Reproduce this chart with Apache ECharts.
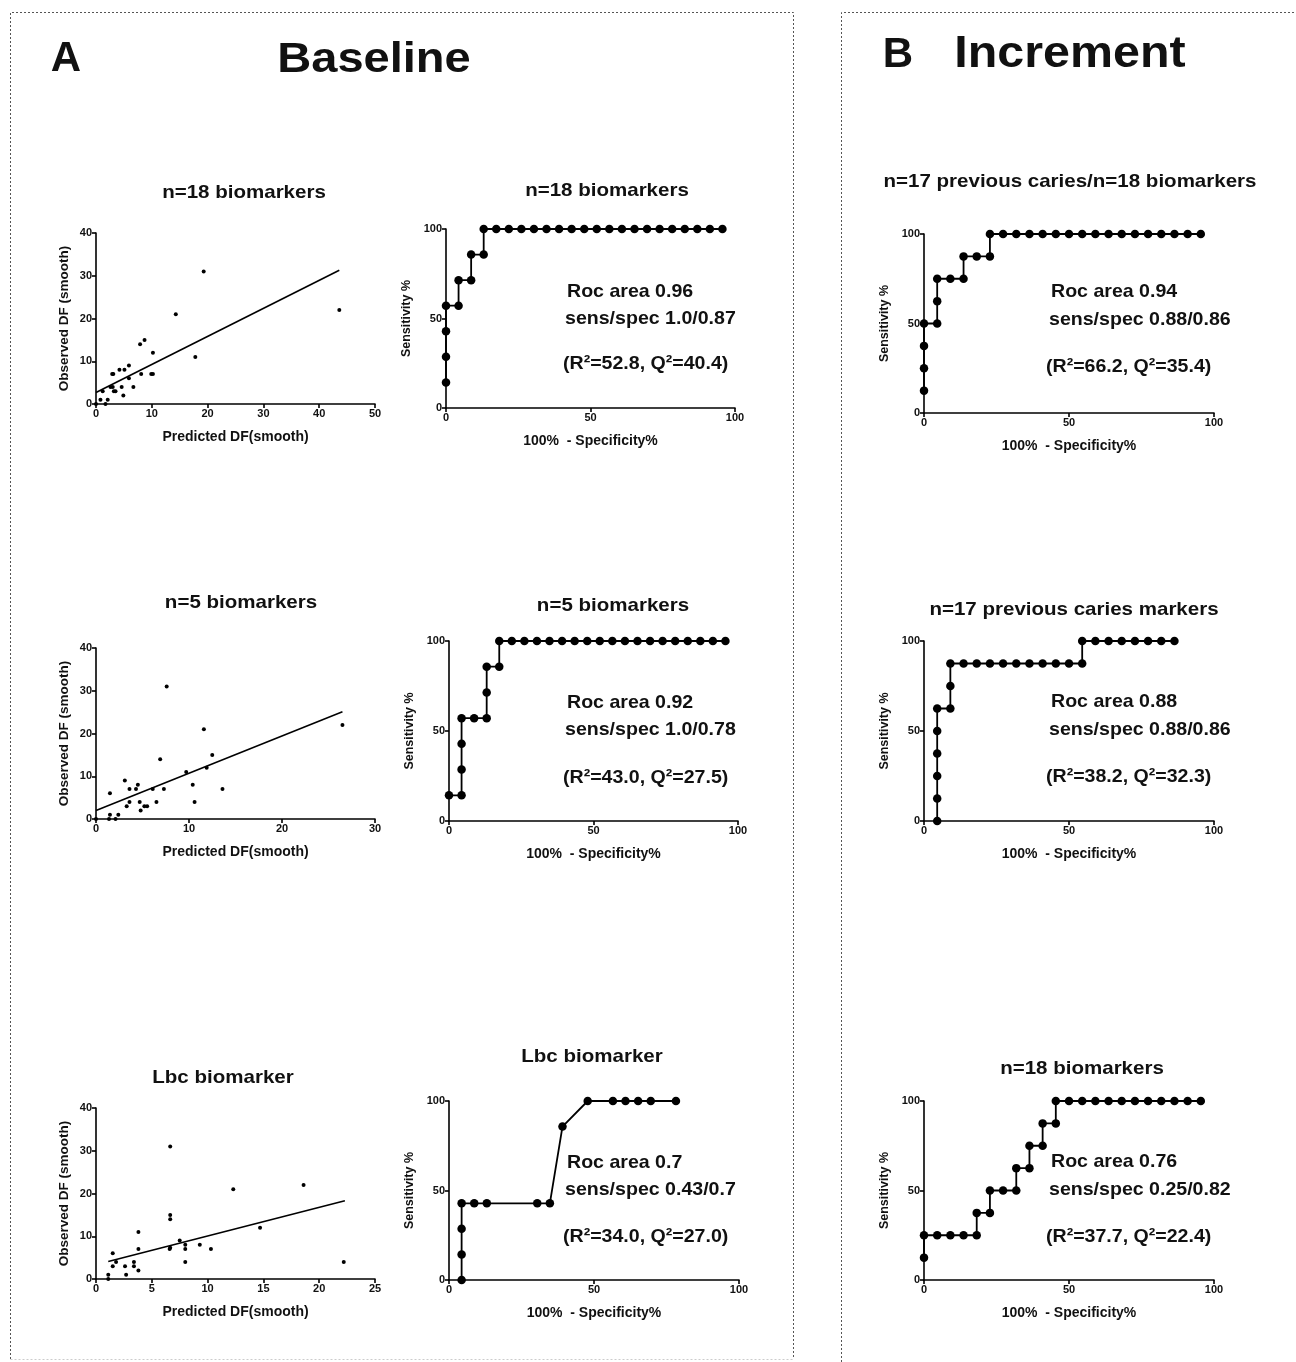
<!DOCTYPE html>
<html>
<head>
<meta charset="utf-8">
<script src="https://cdn.jsdelivr.net/npm/echarts@6/dist/echarts.min.js"></script>
<style>
html,body{margin:0;padding:0;background:#fff;}
#chart{width:1296px;height:1362px;}
</style>
</head>
<body>
<div id="chart"></div>
<script>
// ---------------- DATA ----------------
const scatterA1 = [[0,0],[0.8,1],[1.2,3],[1.7,0],[2.1,1],[2.6,4],[2.9,7],[3.1,7],[3.0,4],[3.2,3],[3.5,3],[4.2,8],[4.6,4],[4.9,2],[5.1,8],[5.9,9],[5.9,6],[6.7,4],[7.9,14],[8.7,15],[8.1,7],[9.9,7],[10.2,7],[10.2,12],[14.3,21],[17.8,11],[19.3,31],[43.6,22]];
const fitA1 = [[0,2.7],[43.6,31.3]];
const scatterA2 = [[0,0],[1.4,0],[1.5,1],[1.5,6],[2.1,0],[2.4,1],[3.1,9],[3.3,3],[3.6,7],[3.6,4],[4.3,7],[4.5,8],[4.7,4],[4.8,2],[5.2,3],[5.5,3],[6.1,7],[6.5,4],[6.9,14],[7.3,7],[7.6,31],[9.7,11],[10.4,8],[10.6,4],[11.6,21],[11.9,12],[12.5,15],[13.6,7],[26.5,22]];
const fitA2 = [[0,2.0],[26.5,25.1]];
const scatterA3 = [[1.1,0],[1.1,1],[1.5,6],[1.5,3],[1.8,4],[2.6,3],[2.7,1],[3.4,4],[3.4,3],[3.8,11],[3.8,7],[3.8,2],[6.65,31],[6.65,15],[6.65,14],[6.65,7.3],[6.6,7],[7.5,9],[8.0,8],[8.0,7],[8.0,4],[9.3,8],[10.3,7],[12.3,21],[14.7,12],[18.6,22],[22.2,4]];
const fitA3 = [[1.1,4.1],[22.3,18.3]];

const rocA1 = [[0,14.29],[0,28.57],[0,42.86],[0,57.14],[4.35,57.14],[4.35,71.43],[8.7,71.43],[8.7,85.71],[13.04,85.71],[13.04,100],[17.39,100],[21.74,100],[26.09,100],[30.43,100],[34.78,100],[39.13,100],[43.48,100],[47.83,100],[52.17,100],[56.52,100],[60.87,100],[65.22,100],[69.57,100],[73.91,100],[78.26,100],[82.61,100],[86.96,100],[91.3,100],[95.65,100]];
const rocA2 = [[0,14.29],[4.35,14.29],[4.35,28.57],[4.35,42.86],[4.35,57.14],[8.7,57.14],[13.04,57.14],[13.04,71.43],[13.04,85.71],[17.39,85.71],[17.39,100],[21.74,100],[26.09,100],[30.43,100],[34.78,100],[39.13,100],[43.48,100],[47.83,100],[52.17,100],[56.52,100],[60.87,100],[65.22,100],[69.57,100],[73.91,100],[78.26,100],[82.61,100],[86.96,100],[91.3,100],[95.65,100]];
const rocA3 = [[4.35,0],[4.35,14.29],[4.35,28.57],[4.35,42.86],[8.7,42.86],[13.04,42.86],[30.43,42.86],[34.78,42.86],[39.13,85.71],[47.83,100],[56.52,100],[60.87,100],[65.22,100],[69.57,100],[78.26,100]];
const rocB1 = [[0,12.5],[0,25],[0,37.5],[0,50],[4.55,50],[4.55,62.5],[4.55,75],[9.09,75],[13.64,75],[13.64,87.5],[18.18,87.5],[22.73,87.5],[22.73,100],[27.27,100],[31.82,100],[36.36,100],[40.91,100],[45.45,100],[50,100],[54.55,100],[59.09,100],[63.64,100],[68.18,100],[72.73,100],[77.27,100],[81.82,100],[86.36,100],[90.91,100],[95.45,100]];
const rocB2 = [[4.55,0],[4.55,12.5],[4.55,25],[4.55,37.5],[4.55,50],[4.55,62.5],[9.09,62.5],[9.09,75],[9.09,87.5],[13.64,87.5],[18.18,87.5],[22.73,87.5],[27.27,87.5],[31.82,87.5],[36.36,87.5],[40.91,87.5],[45.45,87.5],[50,87.5],[54.55,87.5],[54.55,100],[59.09,100],[63.64,100],[68.18,100],[72.73,100],[77.27,100],[81.82,100],[86.36,100]];
const rocB3 = [[0,12.5],[0,25],[4.55,25],[9.09,25],[13.64,25],[18.18,25],[18.18,37.5],[22.73,37.5],[22.73,50],[27.27,50],[31.82,50],[31.82,62.5],[36.36,62.5],[36.36,75],[40.91,75],[40.91,87.5],[45.45,87.5],[45.45,100],[50,100],[54.55,100],[59.09,100],[63.64,100],[68.18,100],[72.73,100],[77.27,100],[81.82,100],[86.36,100],[90.91,100],[95.45,100]];

const scatterXMax = [50, 30, 25];
const scatterXInterval = [10, 10, 5];
const scatterYTicks = [0, 40, 10];
const rocTicks = [0, 100, 50];

const panelTitles = ["A", "Baseline", "B", "Increment"];
const plotTitles = [
  "n=18 biomarkers", "n=18 biomarkers", "n=17 previous caries/n=18 biomarkers",
  "n=5 biomarkers", "n=5 biomarkers", "n=17 previous caries markers",
  "Lbc biomarker", "Lbc biomarker", "n=18 biomarkers"
];
const rocTexts = [
  ["Roc area 0.96", "sens/spec 1.0/0.87", "(R\u00b2=52.8, Q\u00b2=40.4)"],
  ["Roc area 0.92", "sens/spec 1.0/0.78", "(R\u00b2=43.0, Q\u00b2=27.5)"],
  ["Roc area 0.7", "sens/spec 0.43/0.7", "(R\u00b2=34.0, Q\u00b2=27.0)"],
  ["Roc area 0.94", "sens/spec 0.88/0.86", "(R\u00b2=66.2, Q\u00b2=35.4)"],
  ["Roc area 0.88", "sens/spec 0.88/0.86", "(R\u00b2=38.2, Q\u00b2=32.3)"],
  ["Roc area 0.76", "sens/spec 0.25/0.82", "(R\u00b2=37.7, Q\u00b2=22.4)"]
];
const axisNames = {
  scatterX: "Predicted DF(smooth)", scatterY: "Observed DF (smooth)",
  rocX: "100%  - Specificity%", rocY: "Sensitivity %"
};

// ---------------- LAYOUT ----------------
const FONT = '"Liberation Sans", Arial, Helvetica, sans-serif';
const scatterGrids = [
  {left: 96, top: 233, width: 279, height: 171},
  {left: 96, top: 648, width: 279, height: 171},
  {left: 96, top: 1108, width: 279, height: 171}
];
const rocGrids = [
  {left: 446, top: 229, width: 289, height: 179},
  {left: 449, top: 641, width: 289, height: 180},
  {left: 449, top: 1101, width: 290, height: 179},
  {left: 924, top: 234, width: 290, height: 179},
  {left: 924, top: 641, width: 290, height: 180},
  {left: 924, top: 1101, width: 290, height: 179}
];
const titlePos = [[244,193],[607,191],[1070,182],[241,603],[613,606],[1074,610],[223,1078],[592,1057],[1082,1069]];
const rocTextPos = [
  [[567,292],[565,319],[563,364]],
  [[567,703],[565,730],[563,778]],
  [[567,1163],[565,1190],[563,1237]],
  [[1051,292],[1049,320],[1046,367]],
  [[1051,702],[1049,730],[1046,777]],
  [[1051,1162],[1049,1190],[1046,1237]]
];

const grids = [], xAxes = [], yAxes = [], series = [];
const labelStyle = {fontFamily: FONT, fontWeight: 'bold', fontSize: 11, color: '#111', margin: 4};
const lineStyle = {show: true, onZero: false, lineStyle: {color: '#000', width: 1.6}};
const tickStyle = {show: true, inside: false, length: 4, lineStyle: {color: '#000', width: 1.6}};

function addAxes(grid, xmin, xmax, xint, ymin, ymax, yint, xname, yname, xgap, ygap, xsize, ysize) {
  const gi = grids.length;
  grids.push(Object.assign({containLabel: false}, grid));
  xAxes.push({
    type: 'value', gridIndex: gi, min: xmin, max: xmax, interval: xint,
    axisLine: lineStyle, axisTick: tickStyle, axisLabel: labelStyle, splitLine: {show: false},
    name: xname, nameLocation: 'middle', nameGap: xgap,
    nameTextStyle: {fontFamily: FONT, fontWeight: 'bold', fontSize: xsize, color: '#111'}
  });
  yAxes.push({
    type: 'value', gridIndex: gi, min: ymin, max: ymax, interval: yint,
    axisLine: lineStyle, axisTick: tickStyle, axisLabel: labelStyle, splitLine: {show: false},
    name: yname, nameLocation: 'middle', nameGap: ygap, nameRotate: 90,
    nameTextStyle: {fontFamily: FONT, fontWeight: 'bold', fontSize: ysize, color: '#111'}
  });
  return gi;
}

const scatterData = [scatterA1, scatterA2, scatterA3];
const fitData = [fitA1, fitA2, fitA3];
scatterGrids.forEach((g, i) => {
  const gi = addAxes(g, 0, scatterXMax[i], scatterXInterval[i], scatterYTicks[0], scatterYTicks[1], scatterYTicks[2],
    axisNames.scatterX, axisNames.scatterY, 26, 25, 14, 13.5);
  series.push({
    type: 'scatter', xAxisIndex: gi, yAxisIndex: gi, data: scatterData[i],
    symbol: 'circle', symbolSize: 4, itemStyle: {color: '#000', opacity: 1}, silent: true
  });
  series.push({
    type: 'line', xAxisIndex: gi, yAxisIndex: gi, data: fitData[i],
    showSymbol: false, symbol: 'none', lineStyle: {color: '#000', width: 1.6}, silent: true
  });
});

const rocData = [rocA1, rocA2, rocA3, rocB1, rocB2, rocB3];
rocGrids.forEach((g, i) => {
  const gi = addAxes(g, rocTicks[0], rocTicks[1], rocTicks[2], rocTicks[0], rocTicks[1], rocTicks[2],
    axisNames.rocX, axisNames.rocY, 26, 33, 14, 12.5);
  series.push({
    type: 'line', xAxisIndex: gi, yAxisIndex: gi, data: rocData[i],
    symbol: 'circle', symbolSize: 8.5, showAllSymbol: true,
    itemStyle: {color: '#000', borderWidth: 0}, lineStyle: {color: '#000', width: 1.8},
    silent: true, clip: false
  });
});

// ---------------- GRAPHICS (frames & text) ----------------
const graphics = [];
const frameDash = {stroke: '#555', lineWidth: 1, lineDash: [2, 2], fill: 'none'};
const faintDash = {stroke: '#ccc', lineWidth: 1, lineDash: [2, 2], fill: 'none'};
graphics.push({type: 'polyline', shape: {points: [[10.5,1359],[10.5,12.5],[793.5,12.5],[793.5,1359]]}, style: frameDash, silent: true});
graphics.push({type: 'line', shape: {x1: 10.5, y1: 1359.5, x2: 793.5, y2: 1359.5}, style: faintDash, silent: true});
graphics.push({type: 'polyline', shape: {points: [[841.5,1362],[841.5,12.5],[1296,12.5]]}, style: frameDash, silent: true});

function addText(text, x, y, size, align, sx) {
  graphics.push({
    type: 'text', x: x, y: y, silent: true, scaleX: sx || 1,
    style: {
      text: text, fill: '#111',
      font: 'bold ' + size + 'px ' + FONT,
      textAlign: align, textVerticalAlign: 'middle', align: align, verticalAlign: 'middle'
    }
  });
}
addText(panelTitles[0], 66, 59, 42, 'center');
addText(panelTitles[1], 374, 60, 42, 'center', 1.12);
addText(panelTitles[2], 898, 55, 42, 'center');
addText(panelTitles[3], 1070, 55, 44, 'center', 1.1);
plotTitles.forEach((t, i) => addText(t, titlePos[i][0], titlePos[i][1], 19, 'center', 1.08));
rocTexts.forEach((lines, i) => {
  lines.forEach((t, j) => addText(t, rocTextPos[i][j][0], rocTextPos[i][j][1], 19, 'left', 1.03));
});

const chart = echarts.init(document.getElementById('chart'), null, {renderer: 'canvas'});
chart.setOption({
  backgroundColor: '#fff',
  animation: false,
  grid: grids, xAxis: xAxes, yAxis: yAxes, series: series,
  graphic: {elements: graphics}
});
</script>
</body>
</html>
